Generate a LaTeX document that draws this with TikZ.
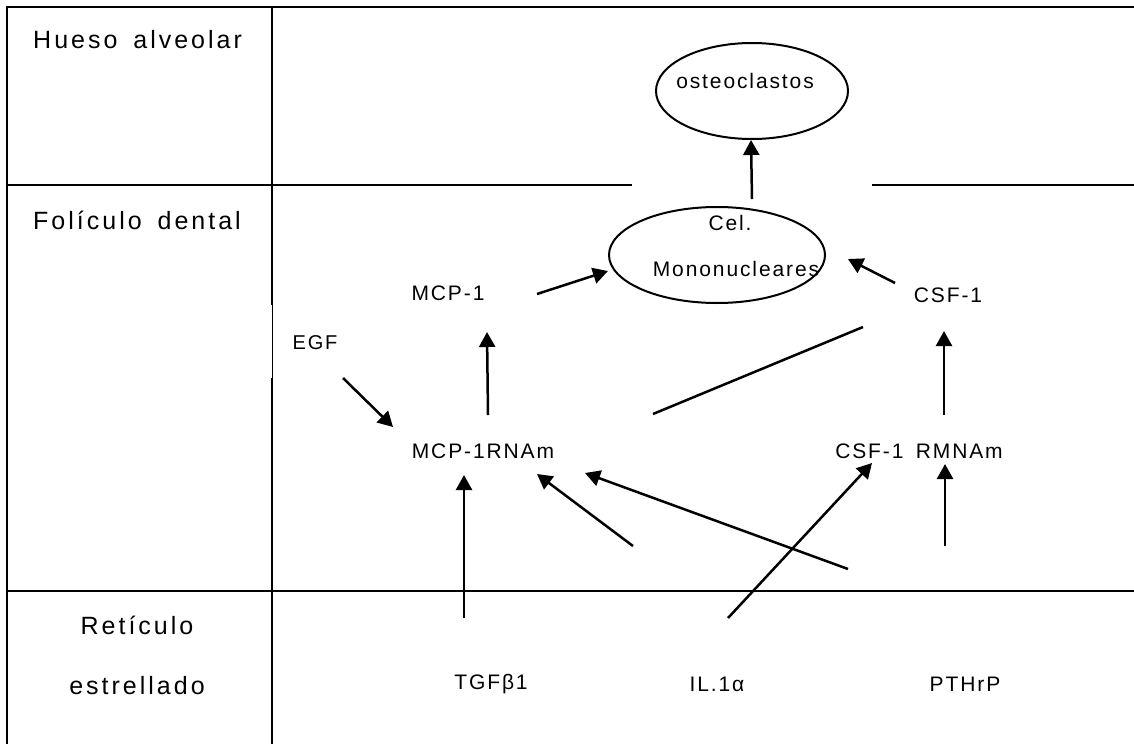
\documentclass[tikz,border=0pt]{standalone}
\usepackage{fontspec}
\setmainfont{Liberation Sans}
\newfontfamily\labfont[LetterSpace=12,WordSpace=1.6]{Liberation Sans}
\newfontfamily\txtfont[LetterSpace=9,WordSpace=1.6]{Liberation Sans}
\usetikzlibrary{arrows.meta,shapes.geometric}
\begin{document}
\begin{tikzpicture}[x=1pt,y=-1pt,
  frame/.style={line width=2.8pt},
  thinframe/.style={line width=1pt},
  arr/.style={line width=2.5pt,-{Triangle[length=15pt,width=16pt]}},
  plainline/.style={line width=2.5pt},
  lab/.style={inner sep=0pt,font=\labfont\fontsize{25}{29}\selectfont},
  txt/.style={inner sep=0pt,font=\txtfont\fontsize{21}{25}\selectfont},
  smalltxt/.style={inner sep=0pt,font=\txtfont\fontsize{20}{24}\selectfont},
  cell/.style={draw,ellipse,line width=2pt,inner sep=0pt}]
\fill[white] (0,0) rectangle (1134,744);
\useasboundingbox (0,0) rectangle (1134,744);
% frame
\draw[frame] (7,744) -- (7,7) -- (1134,7);
\draw[frame] (272,7) -- (272,305);
\draw[thinframe] (272,305) -- (272,378);
\draw[frame] (272,378) -- (272,744);
\draw[frame] (7,185) -- (632,185);
\draw[frame] (872,185) -- (1134,185);
\draw[frame] (7,591) -- (1134,591);
% row labels
\node[lab,anchor=west] (hueso) at (33,40) {Hueso alveolar};
\node[lab,anchor=west] (foliculo) at (33,220) {Folículo dental};
\node[lab] (reticulo) at (137,625) {Retículo};
\node[lab] (estrellado) at (137,686) {estrellado};
% ellipses
\node[cell,minimum width=192pt,minimum height=96pt] (osteo) at (752,91) {};
\node[txt] (osteotxt) at (745,81) {osteoclastos};
\node[cell,minimum width=216pt,minimum height=96pt] (cel) at (717,255) {};
\node[txt] (celtxt) at (730,223) {Cel.};
\node[txt] (monotxt) at (736,269) {Mononucleares};
% texts
\node[txt] (mcp1) at (448,293) {MCP-1};
\node[txt] (csf1) at (948,295) {CSF-1};
\node[smalltxt] (egf) at (315,343) {EGF};
\node[txt] (mcprna) at (483,451) {MCP-1RNAm};
\node[txt] (csfrna) at (919,451) {CSF-1 RMNAm};
\node[txt] (tgf) at (491,684) {TGFβ1};
\node[txt] (il1) at (717,684) {IL.1α};
\node[txt] (pthrp) at (965,684) {PTHrP};
% connector end points
\coordinate (celtop) at (752,199);
\coordinate (osteobot) at (751,140);
\coordinate (mcp1out) at (537,294);
\coordinate (celleft) at (608,271);
\coordinate (csf1out) at (895,283);
\coordinate (celright) at (848,259);
\coordinate (mcprnaup) at (488,415);
\coordinate (mcp1in) at (487,332);
\coordinate (csfrnaup) at (944,415);
\coordinate (csf1in) at (944,331);
\coordinate (csf1low) at (863,327);
\coordinate (mcprnaright) at (653,414);
\coordinate (egfout) at (343,378);
\coordinate (mcprnaleft) at (393,427);
\coordinate (tgfout) at (464,618);
\coordinate (mcprnabot) at (464,475);
\coordinate (freeend) at (633,546);
\coordinate (mcprnabr) at (537,474);
\coordinate (pthrpleft) at (848,569);
\coordinate (mcprnafar) at (585,473);
\coordinate (il1out) at (728,618);
\coordinate (csfrnaleft) at (872,463);
\coordinate (pthrpup) at (945,546);
\coordinate (csfrnabot) at (945,464);
% connectors
\draw[arr] (celtop) -- (osteobot);
\draw[arr] (mcp1out) -- (celleft);
\draw[arr] (csf1out) -- (celright);
\draw[arr] (mcprnaup) -- (mcp1in);
\draw[arr] (csfrnaup) -- (csf1in);
\draw[plainline] (csf1low) -- (mcprnaright);
\draw[arr] (egfout) -- (mcprnaleft);
\draw[arr] (tgfout) -- (mcprnabot);
\draw[arr] (freeend) -- (mcprnabr);
\draw[arr] (pthrpleft) -- (mcprnafar);
\draw[arr] (il1out) -- (csfrnaleft);
\draw[arr] (pthrpup) -- (csfrnabot);
\end{tikzpicture}
\end{document}
